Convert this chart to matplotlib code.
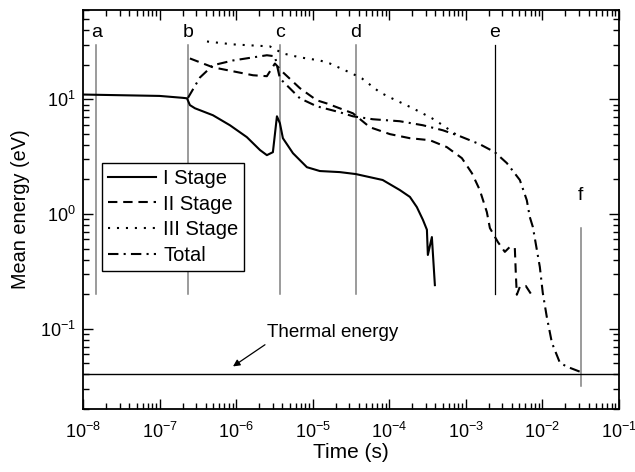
import matplotlib
matplotlib.use("Agg")
import matplotlib.pyplot as plt

plt.rcParams['font.family'] = ['Liberation Sans', 'DejaVu Sans']
plt.rcParams['mathtext.fontset'] = 'custom'
plt.rcParams['mathtext.rm'] = 'Liberation Sans'
plt.rcParams['mathtext.it'] = 'Liberation Sans:italic'
plt.rcParams['axes.unicode_minus'] = False

# values (time in s, energy in eV)
stage1_t = [1e-8, 1e-7, 2.0e-7, 2.28e-7, 2.49e-7, 2.9e-7, 4.98e-7, 8.3e-7, 1.38e-6,
            2.05e-6, 2.52e-6, 3.02e-6, 3.41e-6, 3.73e-6, 4.08e-6, 5.52e-6, 8.4e-6,
            1.24e-5, 2.26e-5, 3.66e-5, 8.2e-5, 1.37e-4, 1.86e-4, 2.29e-4, 2.75e-4,
            3.1e-4, 3.19e-4, 3.6e-4, 3.94e-4]
stage1_e = [11.0, 10.7, 10.3, 10.2, 8.9, 8.35, 7.26, 5.94, 4.68,
            3.61, 3.26, 3.46, 7.11, 6.18, 4.58, 3.39, 2.56,
            2.37, 2.32, 2.23, 1.98, 1.62, 1.41, 1.15, 0.89,
            0.73, 0.44, 0.63, 0.24]

stage2_t = [2.49e-7, 4.98e-7, 1.66e-6, 2.52e-6, 3.21e-6, 4.08e-6, 6.8e-6, 1.13e-5,
            1.53e-5, 3.35e-5, 5.58e-5, 1.02e-4, 1.86e-4, 3.39e-4, 5.65e-4, 8.87e-4,
            1.2e-3, 1.52e-3, 1.88e-3, 2.06e-3, 2.62e-3, 3.23e-3, 3.75e-3, 4.36e-3,
            4.5e-3, 4.63e-3, 5.07e-3, 6.07e-3, 7.5e-3]
stage2_e = [22.7, 19.0, 16.2, 15.9, 20.5, 17.2, 12.5, 9.8,
            9.2, 7.55, 5.71, 4.97, 4.58, 4.4, 3.83, 3.07,
            2.27, 1.62, 1.04, 0.755, 0.57, 0.468, 0.517, 0.506,
            0.295, 0.198, 0.232, 0.236, 0.19]

stage3_t = [4.16e-7, 9.1e-7, 2.76e-6, 4.08e-6, 6.8e-6, 1.24e-5, 1.68e-5, 3.25e-5,
            4.39e-5, 7.53e-5, 1.08e-4, 2.03e-4, 3.6e-4, 5.01e-4, 6.76e-4, 8.35e-4]
stage3_e = [31.9, 30.1, 28.9, 25.1, 23.2, 21.8, 20.5, 16.8,
            15.2, 11.5, 10.2, 8.35, 6.84, 5.94, 5.16, 4.68]

total_t = [2.35e-7, 3.37e-7, 4.98e-7, 9.1e-7, 2.52e-6, 3.21e-6, 3.73e-6, 6.8e-6,
           1.13e-5, 2.26e-5, 3.35e-5, 6.1e-5, 1.37e-4, 2.75e-4, 5.01e-4, 8.35e-4,
           1.52e-3, 2.39e-3, 3.43e-3, 5.07e-3, 6.25e-3, 6.84e-3, 7.5e-3, 9.25e-3,
           1.01e-2, 1.14e-2, 1.33e-2, 1.69e-2, 2.08e-2, 3.08e-2]
total_e = [10.3, 15.5, 19.8, 21.8, 24.2, 23.7, 15.2, 10.2,
           8.69, 7.71, 7.11, 6.7, 6.44, 5.94, 5.37, 4.77,
           4.06, 3.46, 2.78, 1.98, 1.32, 0.942, 0.771, 0.346,
           0.206, 0.127, 0.0755, 0.0506, 0.0468, 0.0423]

thermal_e = 0.04

mark_labels = ['a', 'b', 'c', 'd', 'e', 'f']
mark_t = [1.5e-8, 2.35e-7, 3.7e-6, 3.66e-5, 2.4e-3, 3.16e-2]
mark_lo = [0.2, 0.2, 0.2, 0.2, 0.2, 0.032]
mark_hi = [30, 30, 30, 30, 30, 0.755]
mark_text_e = [35, 35, 35, 35, 35, 1.32]
mark_colors = ['#808080', '#808080', '#808080', '#808080', 'black', '#808080']

fig = plt.figure(figsize=(6.35, 4.72), dpi=100)
ax = fig.add_axes([0.1307, 0.1335, 0.9748 - 0.1307, 0.9788 - 0.1335])
ax.set_xscale('log')
ax.set_yscale('log')
ax.set_xlim(1e-8, 1e-1)
ax.set_ylim(0.02, 60)

for t, lo, hi, c, lab, te in zip(mark_t, mark_lo, mark_hi, mark_colors, mark_labels, mark_text_e):
    ax.plot([t, t], [lo, hi], color=c, lw=1.1 if c != 'black' else 0.9)
    ax.text(t, te, lab, ha='center', va='baseline', fontsize=14)

ax.axhline(thermal_e, color='black', lw=1.0)

lw = 1.5
ax.plot(stage1_t, stage1_e, color='black', lw=lw, ls='-', label='I Stage')
ax.plot(stage2_t, stage2_e, color='black', lw=lw, ls=(0, (4.5, 2.8)), label='II Stage')
ax.plot(stage3_t, stage3_e, color='black', lw=lw, ls=(0, (1, 3.3)), label='III Stage')
ax.plot(total_t, total_e, color='black', lw=lw, ls=(0, (5, 2.5, 1, 2.5)), label='Total')

ax.text(2.52e-6, 0.085, 'Thermal energy', ha='left', va='baseline', fontsize=13.5)
ax.annotate('', xy=(9.1e-7, 0.047), xytext=(2.38e-6, 0.0726),
            arrowprops=dict(arrowstyle='-|>', color='black', lw=0.9,
                            mutation_scale=10, shrinkA=0, shrinkB=0))

leg = ax.legend(loc='upper left', bbox_to_anchor=(0.035, 0.617), borderaxespad=0,
                fontsize=14.5, frameon=True, fancybox=False, edgecolor='black',
                framealpha=1, handlelength=2.4, handletextpad=0.35,
                labelspacing=0.33, borderpad=0.3)
leg.get_frame().set_linewidth(1.0)

ax.tick_params(which='both', direction='in', top=True, right=True, width=1.0)
ax.tick_params(which='major', length=7, labelsize=13)
ax.tick_params(which='minor', length=4)
ax.tick_params(axis='x', which='major', pad=9)
ax.tick_params(axis='y', which='major', pad=5)
for s in ax.spines.values():
    s.set_linewidth(1.3)

ax.set_xlabel('Time (s)', fontsize=15, labelpad=1)
ax.set_ylabel('Mean energy (eV)', fontsize=14.3, labelpad=7)

fig.savefig('out.png', dpi=100)
